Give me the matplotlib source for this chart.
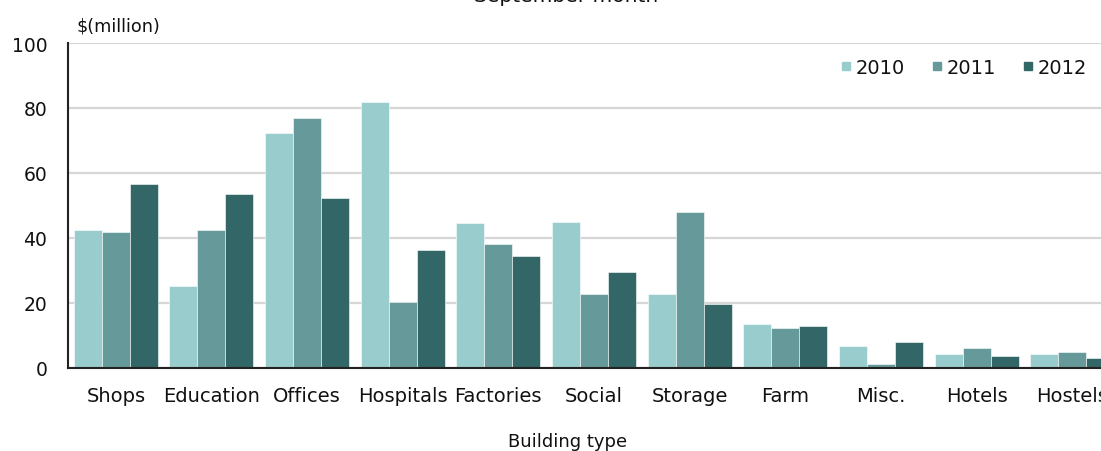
import matplotlib
import numpy as np

matplotlib.use("Agg")

import matplotlib.pyplot as plt
from matplotlib.lines import Line2D

plt.rcParams["font.family"] = ["DejaVu Sans"]

CATEGORIES = ["Shops", "Education", "Offices", "Hospitals", "Factories", "Social",
              "Storage", "Farm", "Misc.", "Hotels", "Hostels"]
YEARS = ["2010", "2011", "2012"]
VALUES_2010 = [42.6, 25.3, 72.2, 81.9, 44.5, 45.0, 22.9, 13.6, 6.9, 4.4, 4.4]
VALUES_2011 = [41.9, 42.6, 77.0, 20.4, 38.3, 22.9, 48.1, 12.4, 1.3, 6.2, 5.0]
VALUES_2012 = [56.7, 53.6, 52.4, 36.4, 34.6, 29.6, 19.8, 12.9, 8.1, 3.8, 3.2]
Y_TICKS = [0, 20, 40, 60, 80, 100]

COLORS = ["#99cccc", "#669999", "#336666"]
TEXT_COLOR = "#111111"

fig = plt.figure(figsize=(11.01, 4.52), dpi=100)
# the plot area runs a little past the right edge of the canvas
ax = fig.add_axes([68 / 1101, 1 - 369 / 452, 1052 / 1101, 325 / 452])

x = np.arange(len(CATEGORIES))
width = 0.293
for offset, values, color in zip([-1, 0, 1], [VALUES_2010, VALUES_2011, VALUES_2012], COLORS):
    ax.bar(x + offset * width, values, width=width, color=color,
           edgecolor="#ffffff", linewidth=0.4, zorder=3)

ax.set_xlim(-0.5, len(CATEGORIES) - 0.5)
ax.set_ylim(0, 100)
ax.set_yticks(Y_TICKS)
ax.set_xticks(x)
ax.set_xticklabels(CATEGORIES)
ax.tick_params(axis="both", length=0, colors=TEXT_COLOR)
ax.tick_params(axis="y", pad=15, labelsize=13.5)
ax.tick_params(axis="x", pad=13, labelsize=14)
ax.grid(axis="y", color="#d6d6d6", linewidth=1.6, zorder=0)
for side in ["top", "right"]:
    ax.spines[side].set_visible(False)
for side in ["left", "bottom"]:
    ax.spines[side].set_color("#222222")
    ax.spines[side].set_linewidth(1.5)
    ax.spines[side].set_zorder(4)

fig.text(76 / 1101, 1 - 27 / 452, "$(million)", fontsize=12.7, va="center", ha="left",
         color=TEXT_COLOR)
fig.text(568 / 1101, 1 - 442 / 452, "Building type", fontsize=13, va="center", ha="center",
         color=TEXT_COLOR)
fig.text(566 / 1101, 1 - 2 / 452, "September month", fontsize=14.5, va="baseline",
         ha="center", color=TEXT_COLOR)

handles = [Line2D([], [], marker="s", linestyle="none", markersize=6,
                  markerfacecolor=c, markeredgecolor=c) for c in COLORS]
fig.legend(handles, YEARS, loc="center right", bbox_to_anchor=(1097 / 1101, 1 - 68 / 452),
           ncol=3, frameon=False, fontsize=14, handlelength=0.5, handletextpad=0.25,
           columnspacing=1.4, borderpad=0, labelcolor=TEXT_COLOR)

fig.savefig("out.png", dpi=100)
